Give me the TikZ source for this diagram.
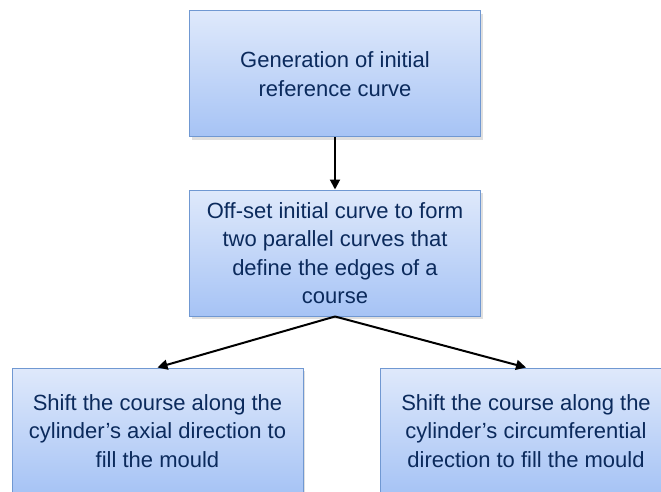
\documentclass[tikz,border=0pt]{standalone}
\usepackage{fontspec}
\setmainfont{Liberation Sans}
\usetikzlibrary{arrows.meta,shadows}
\definecolor{txtc}{HTML}{0B2A5C}
\definecolor{topc}{HTML}{DFE9FB}
\definecolor{botc}{HTML}{A6C3F5}
\definecolor{bordc}{HTML}{7098D2}
\begin{document}
\begin{tikzpicture}[x=1pt,y=-1pt,
  flowbox/.style={draw=bordc, line width=1pt, top color=topc, bottom color=botc,
    minimum width=291pt, minimum height=126pt, inner sep=0pt, align=center,
    text=txtc, font=\fontsize{22}{28.5}\selectfont,
    drop shadow={shadow xshift=2pt, shadow yshift=-3pt, opacity=0.25}},
  conn/.style={-{Triangle[length=10pt,width=10pt]}, line width=2pt, black}]
\useasboundingbox (0,0) rectangle (661,492);
\clip (0,0) rectangle (661,492);
\node[flowbox] (a) at (335,74) {Generation of initial\\reference curve};
\node[flowbox] (b) at (335,253) {Off-set initial curve to form\\two parallel curves that\\define the edges of a\\course};
\node[flowbox] (c) at (157.5,431) {Shift the course along the\\cylinder’s axial direction to\\fill the mould};
\node[flowbox] (d) at (526,431) {Shift the course along the\\cylinder’s circumferential\\direction to fill the mould};
\draw[conn] (a.south) -- (b.north);
\draw[conn] (b.south) -- (c.north);
\draw[conn] (b.south) -- (d.north);
\end{tikzpicture}
\end{document}
